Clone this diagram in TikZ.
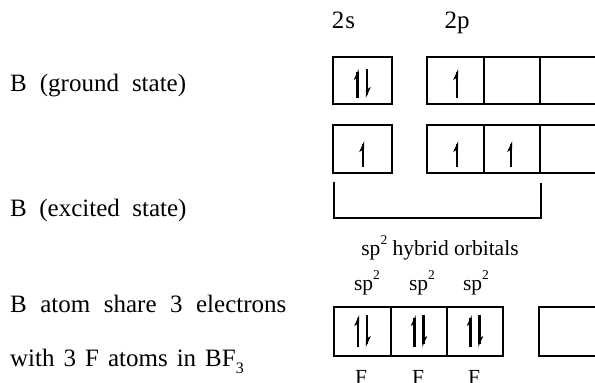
\documentclass[tikz,border=0pt]{standalone}
\usepackage{fontspec}
\setmainfont{Liberation Serif}
\newcommand\harpup[3]{% x, top, bottom
  \fill (#1+1.2,#2) -- (#1-3.8,#2+11) -- (#1+1.2,#2+8) -- cycle;
  \draw[line width=2.4pt] (#1,#2+3) -- (#1,#3);}
\newcommand\harpdown[3]{% x, top, bottom
  \fill (#1-1.2,#3) -- (#1+3.8,#3-11) -- (#1-1.2,#3-8) -- cycle;
  \draw[line width=2.4pt] (#1,#2) -- (#1,#3-3);}
\newcommand\supii{\raisebox{0.5em}{\fontsize{13.5}{13.5}\selectfont 2}}
\begin{document}
\begin{tikzpicture}[x=1pt,y=-1pt,
  lbl/.style={anchor=base west,inner sep=0pt,font=\fontsize{25}{30}\selectfont},
  hdr/.style={anchor=base,inner sep=0pt,font=\fontsize{25}{30}\selectfont},
  small/.style={anchor=base,inner sep=0pt,font=\fontsize{21.5}{26}\selectfont},
  obox/.style={draw,line width=1.6pt}]
\useasboundingbox (0,0) rectangle (595,383);
% labels
\node[hdr] (l2s) at (343.5,28) {2\kern1pt s};
\node[hdr] (l2p) at (457,28) {2p};
\node[lbl] (g) at (10,91) {\spaceskip=13pt B (ground state)};
\node[lbl] (e) at (10,216) {\spaceskip=12.5pt B (excited state)};
\node[lbl] (s1) at (10,312) {\spaceskip=13.5pt B atom share 3 electrons};
\node[lbl] (s2) at (10,366) {\spaceskip=9pt with 3 F atoms in BF\raisebox{-0.3em}{\fontsize{16}{16}\selectfont 3}};
\node[small] (hyb) at (440,255) {sp\supii{} hybrid orbitals};
\node[small] (h1) at (367,290) {sp\supii};
\node[small] (h2) at (422,290) {sp\supii};
\node[small] (h3) at (476,290) {sp\supii};
\node[small] (f1) at (361,384) {F};
\node[small] (f2) at (418,384) {F};
\node[small] (f3) at (474,384) {F};
% ground state boxes
\draw[obox] (333,57) rectangle (392,104);
\draw[obox] (427,57) rectangle (484,104);
\draw[obox] (484,57) rectangle (540,104);
\draw[obox] (540,57) rectangle (600,104);
% excited state boxes
\draw[obox] (333,125) rectangle (392,173);
\draw[obox] (427,125) rectangle (484,173);
\draw[obox] (484,125) rectangle (540,173);
\draw[obox] (540,125) rectangle (600,173);
% bracket
\draw[line width=1.6pt] (334,182) -- (334,218) -- (541,218) -- (541,183);
% hybrid boxes
\draw[obox] (334,307) rectangle (391,356);
\draw[obox] (391,307) rectangle (447,356);
\draw[obox] (447,307) rectangle (503,356);
\draw[obox] (539,307) rectangle (600,356);
% electrons
\harpup{357.5}{69}{98}\harpdown{367}{69}{98}
\harpup{457}{69}{98}
\harpup{363}{141}{167}
\harpup{457}{141}{167}
\harpup{511}{141}{167}
\harpup{358}{315}{347}\harpdown{367}{315}{347}
\harpup{414.5}{315}{347}\harpdown{423.5}{315}{347}
\harpup{470.5}{315}{347}\harpdown{479.5}{315}{347}
\end{tikzpicture}
\end{document}
